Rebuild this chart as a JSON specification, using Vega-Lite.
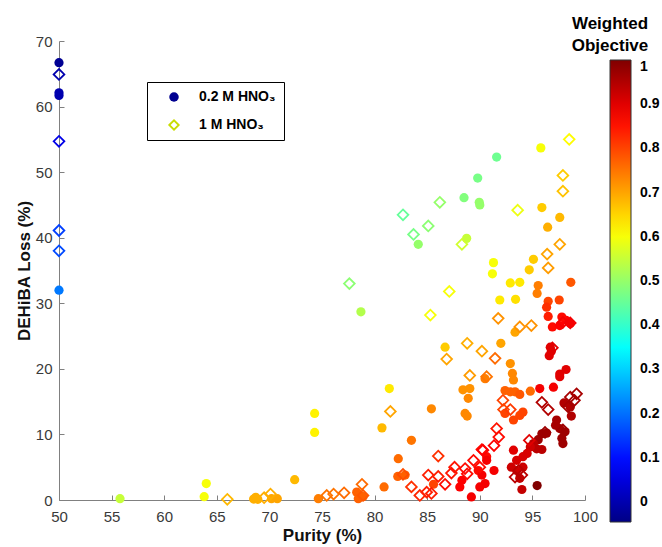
{
  "$schema": "https://vega.github.io/schema/vega-lite/v6.json",
  "width": 526,
  "height": 459,
  "autosize": "none",
  "padding": {"left": 59, "top": 41, "right": 77, "bottom": 47},
  "background": "white",
  "config": {
    "view": {"stroke": null},
    "font": "Liberation Sans",
    "axis": {"grid": false, "domainColor": "#808080", "tickColor": "#808080", "labelColor": "#3a3a3a", "labelFontSize": 15, "titleFontSize": 17, "titleFontWeight": "bold", "titleColor": "#111111", "tickSize": -5, "labelFont": "Liberation Sans", "titleFont": "Liberation Sans"}
  },
  "datasets": {
    "pts": [
      {"p": 50, "l": 66.7, "o": -0.03, "a": "0.2 M HNO₃"},
      {"p": 50, "l": 62.1, "o": 0.0, "a": "0.2 M HNO₃"},
      {"p": 50, "l": 61.7, "o": 0.0, "a": "0.2 M HNO₃"},
      {"p": 50, "l": 32.0, "o": 0.21, "a": "0.2 M HNO₃"},
      {"p": 55.8, "l": 0.2, "o": 0.55, "a": "0.2 M HNO₃"},
      {"p": 64.0, "l": 2.5, "o": 0.6, "a": "0.2 M HNO₃"},
      {"p": 63.8, "l": 0.5, "o": 0.6, "a": "0.2 M HNO₃"},
      {"p": 68.5, "l": 0.15, "o": 0.69, "a": "0.2 M HNO₃"},
      {"p": 68.7, "l": 0.4, "o": 0.69, "a": "0.2 M HNO₃"},
      {"p": 68.9, "l": 0.1, "o": 0.69, "a": "0.2 M HNO₃"},
      {"p": 70.2, "l": 0.2, "o": 0.7, "a": "0.2 M HNO₃"},
      {"p": 70.75, "l": 0.2, "o": 0.7, "a": "0.2 M HNO₃"},
      {"p": 72.4, "l": 3.1, "o": 0.68, "a": "0.2 M HNO₃"},
      {"p": 74.3, "l": 13.2, "o": 0.62, "a": "0.2 M HNO₃"},
      {"p": 74.3, "l": 10.3, "o": 0.62, "a": "0.2 M HNO₃"},
      {"p": 74.65, "l": 0.2, "o": 0.74, "a": "0.2 M HNO₃"},
      {"p": 78.3, "l": 1.2, "o": 0.77, "a": "0.2 M HNO₃"},
      {"p": 78.6, "l": 0.7, "o": 0.77, "a": "0.2 M HNO₃"},
      {"p": 78.45, "l": 0.2, "o": 0.77, "a": "0.2 M HNO₃"},
      {"p": 78.9, "l": 0.5, "o": 0.77, "a": "0.2 M HNO₃"},
      {"p": 81.4, "l": 17.0, "o": 0.63, "a": "0.2 M HNO₃"},
      {"p": 80.7, "l": 11.0, "o": 0.68, "a": "0.2 M HNO₃"},
      {"p": 80.9, "l": 2.0, "o": 0.76, "a": "0.2 M HNO₃"},
      {"p": 82.25, "l": 6.3, "o": 0.76, "a": "0.2 M HNO₃"},
      {"p": 82.2, "l": 3.6, "o": 0.77, "a": "0.2 M HNO₃"},
      {"p": 82.9, "l": 3.8, "o": 0.77, "a": "0.2 M HNO₃"},
      {"p": 83.5, "l": 9.1, "o": 0.75, "a": "0.2 M HNO₃"},
      {"p": 85.4, "l": 13.9, "o": 0.73, "a": "0.2 M HNO₃"},
      {"p": 88.4, "l": 16.8, "o": 0.72, "a": "0.2 M HNO₃"},
      {"p": 89.05, "l": 17.0, "o": 0.72, "a": "0.2 M HNO₃"},
      {"p": 88.9, "l": 15.5, "o": 0.73, "a": "0.2 M HNO₃"},
      {"p": 88.6, "l": 13.2, "o": 0.73, "a": "0.2 M HNO₃"},
      {"p": 88.8, "l": 12.8, "o": 0.73, "a": "0.2 M HNO₃"},
      {"p": 85.6, "l": 2.4, "o": 0.8, "a": "0.2 M HNO₃"},
      {"p": 88.1, "l": 2.0, "o": 0.87, "a": "0.2 M HNO₃"},
      {"p": 88.3, "l": 3.0, "o": 0.87, "a": "0.2 M HNO₃"},
      {"p": 89.2, "l": 0.46, "o": 0.88, "a": "0.2 M HNO₃"},
      {"p": 90.0, "l": 2.0, "o": 0.88, "a": "0.2 M HNO₃"},
      {"p": 90.65, "l": 6.6, "o": 0.86, "a": "0.2 M HNO₃"},
      {"p": 89.85, "l": 4.5, "o": 0.86, "a": "0.2 M HNO₃"},
      {"p": 84.15, "l": 39.0, "o": 0.5, "a": "0.2 M HNO₃"},
      {"p": 88.75, "l": 39.9, "o": 0.55, "a": "0.2 M HNO₃"},
      {"p": 86.7, "l": 23.3, "o": 0.66, "a": "0.2 M HNO₃"},
      {"p": 91.3, "l": 36.2, "o": 0.6, "a": "0.2 M HNO₃"},
      {"p": 91.2, "l": 34.5, "o": 0.6, "a": "0.2 M HNO₃"},
      {"p": 92.9, "l": 33.1, "o": 0.63, "a": "0.2 M HNO₃"},
      {"p": 93.8, "l": 33.2, "o": 0.63, "a": "0.2 M HNO₃"},
      {"p": 91.9, "l": 30.5, "o": 0.63, "a": "0.2 M HNO₃"},
      {"p": 93.4, "l": 30.6, "o": 0.64, "a": "0.2 M HNO₃"},
      {"p": 95.1, "l": 36.7, "o": 0.66, "a": "0.2 M HNO₃"},
      {"p": 94.7, "l": 35.1, "o": 0.66, "a": "0.2 M HNO₃"},
      {"p": 95.55, "l": 32.7, "o": 0.74, "a": "0.2 M HNO₃"},
      {"p": 95.45, "l": 31.5, "o": 0.74, "a": "0.2 M HNO₃"},
      {"p": 98.65, "l": 33.2, "o": 0.78, "a": "0.2 M HNO₃"},
      {"p": 96.5, "l": 30.3, "o": 0.8, "a": "0.2 M HNO₃"},
      {"p": 97.55, "l": 30.5, "o": 0.8, "a": "0.2 M HNO₃"},
      {"p": 93.35, "l": 25.6, "o": 0.7, "a": "0.2 M HNO₃"},
      {"p": 92.0, "l": 23.9, "o": 0.7, "a": "0.2 M HNO₃"},
      {"p": 96.35, "l": 29.4, "o": 0.82, "a": "0.2 M HNO₃"},
      {"p": 96.5, "l": 28.0, "o": 0.84, "a": "0.2 M HNO₃"},
      {"p": 96.9, "l": 26.4, "o": 0.86, "a": "0.2 M HNO₃"},
      {"p": 97.6, "l": 26.6, "o": 0.87, "a": "0.2 M HNO₃"},
      {"p": 98.2, "l": 27.4, "o": 0.87, "a": "0.2 M HNO₃"},
      {"p": 97.8, "l": 27.9, "o": 0.86, "a": "0.2 M HNO₃"},
      {"p": 98.6, "l": 26.9, "o": 0.88, "a": "0.2 M HNO₃"},
      {"p": 96.7, "l": 23.3, "o": 0.9, "a": "0.2 M HNO₃"},
      {"p": 96.8, "l": 22.7, "o": 0.9, "a": "0.2 M HNO₃"},
      {"p": 96.6, "l": 22.0, "o": 0.9, "a": "0.2 M HNO₃"},
      {"p": 92.9, "l": 20.8, "o": 0.72, "a": "0.2 M HNO₃"},
      {"p": 91.6, "l": 52.3, "o": 0.46, "a": "0.2 M HNO₃"},
      {"p": 89.8, "l": 49.1, "o": 0.47, "a": "0.2 M HNO₃"},
      {"p": 88.5, "l": 46.1, "o": 0.48, "a": "0.2 M HNO₃"},
      {"p": 89.95, "l": 45.4, "o": 0.5, "a": "0.2 M HNO₃"},
      {"p": 90.0, "l": 45.0, "o": 0.5, "a": "0.2 M HNO₃"},
      {"p": 95.8, "l": 53.7, "o": 0.6, "a": "0.2 M HNO₃"},
      {"p": 95.9, "l": 44.6, "o": 0.66, "a": "0.2 M HNO₃"},
      {"p": 97.6, "l": 43.1, "o": 0.68, "a": "0.2 M HNO₃"},
      {"p": 96.45, "l": 41.6, "o": 0.69, "a": "0.2 M HNO₃"},
      {"p": 78.7, "l": 28.7, "o": 0.53, "a": "0.2 M HNO₃"},
      {"p": 93.1, "l": 19.3, "o": 0.73, "a": "0.2 M HNO₃"},
      {"p": 93.2, "l": 18.3, "o": 0.73, "a": "0.2 M HNO₃"},
      {"p": 90.5, "l": 18.5, "o": 0.74, "a": "0.2 M HNO₃"},
      {"p": 92.4, "l": 16.7, "o": 0.77, "a": "0.2 M HNO₃"},
      {"p": 92.9, "l": 16.5, "o": 0.77, "a": "0.2 M HNO₃"},
      {"p": 93.35, "l": 16.5, "o": 0.77, "a": "0.2 M HNO₃"},
      {"p": 93.8, "l": 16.1, "o": 0.78, "a": "0.2 M HNO₃"},
      {"p": 94.8, "l": 16.6, "o": 0.76, "a": "0.2 M HNO₃"},
      {"p": 95.7, "l": 17.0, "o": 0.88, "a": "0.2 M HNO₃"},
      {"p": 97.0, "l": 17.2, "o": 0.88, "a": "0.2 M HNO₃"},
      {"p": 97.6, "l": 19.2, "o": 0.9, "a": "0.2 M HNO₃"},
      {"p": 98.2, "l": 19.9, "o": 0.9, "a": "0.2 M HNO₃"},
      {"p": 97.6, "l": 18.8, "o": 0.9, "a": "0.2 M HNO₃"},
      {"p": 98.0, "l": 14.8, "o": 0.95, "a": "0.2 M HNO₃"},
      {"p": 98.6, "l": 14.2, "o": 0.95, "a": "0.2 M HNO₃"},
      {"p": 92.4, "l": 13.2, "o": 0.8, "a": "0.2 M HNO₃"},
      {"p": 93.2, "l": 12.2, "o": 0.8, "a": "0.2 M HNO₃"},
      {"p": 93.8, "l": 12.9, "o": 0.8, "a": "0.2 M HNO₃"},
      {"p": 94.1, "l": 13.4, "o": 0.8, "a": "0.2 M HNO₃"},
      {"p": 97.3, "l": 12.2, "o": 0.96, "a": "0.2 M HNO₃"},
      {"p": 97.6, "l": 10.9, "o": 0.96, "a": "0.2 M HNO₃"},
      {"p": 97.2, "l": 11.4, "o": 0.96, "a": "0.2 M HNO₃"},
      {"p": 98.1, "l": 10.4, "o": 0.97, "a": "0.2 M HNO₃"},
      {"p": 97.8, "l": 9.4, "o": 0.97, "a": "0.2 M HNO₃"},
      {"p": 97.9, "l": 8.6, "o": 0.97, "a": "0.2 M HNO₃"},
      {"p": 98.7, "l": 12.8, "o": 0.95, "a": "0.2 M HNO₃"},
      {"p": 95.9, "l": 10.1, "o": 0.97, "a": "0.2 M HNO₃"},
      {"p": 96.35, "l": 10.2, "o": 0.97, "a": "0.2 M HNO₃"},
      {"p": 95.55, "l": 9.2, "o": 0.97, "a": "0.2 M HNO₃"},
      {"p": 95.4, "l": 7.8, "o": 0.94, "a": "0.2 M HNO₃"},
      {"p": 95.9, "l": 7.7, "o": 0.94, "a": "0.2 M HNO₃"},
      {"p": 95.1, "l": 8.6, "o": 0.94, "a": "0.2 M HNO₃"},
      {"p": 94.8, "l": 8.1, "o": 0.92, "a": "0.2 M HNO₃"},
      {"p": 93.2, "l": 7.6, "o": 0.9, "a": "0.2 M HNO₃"},
      {"p": 93.5, "l": 6.05, "o": 0.91, "a": "0.2 M HNO₃"},
      {"p": 94.1, "l": 6.6, "o": 0.91, "a": "0.2 M HNO₃"},
      {"p": 94.5, "l": 7.1, "o": 0.91, "a": "0.2 M HNO₃"},
      {"p": 93.0, "l": 5.0, "o": 0.92, "a": "0.2 M HNO₃"},
      {"p": 93.5, "l": 4.5, "o": 0.92, "a": "0.2 M HNO₃"},
      {"p": 94.1, "l": 5.0, "o": 0.92, "a": "0.2 M HNO₃"},
      {"p": 93.8, "l": 3.3, "o": 0.93, "a": "0.2 M HNO₃"},
      {"p": 94.0, "l": 1.6, "o": 0.93, "a": "0.2 M HNO₃"},
      {"p": 95.45, "l": 2.2, "o": 1.0, "a": "0.2 M HNO₃"},
      {"p": 90.65, "l": 6.05, "o": 0.88, "a": "0.2 M HNO₃"},
      {"p": 91.35, "l": 4.5, "o": 0.88, "a": "0.2 M HNO₃"},
      {"p": 90.2, "l": 3.8, "o": 0.88, "a": "0.2 M HNO₃"},
      {"p": 90.5, "l": 2.5, "o": 0.88, "a": "0.2 M HNO₃"},
      {"p": 50, "l": 64.9, "o": 0.0, "a": "1 M HNO₃"},
      {"p": 50, "l": 54.7, "o": 0.06, "a": "1 M HNO₃"},
      {"p": 50, "l": 41.1, "o": 0.15, "a": "1 M HNO₃"},
      {"p": 50, "l": 38.0, "o": 0.16, "a": "1 M HNO₃"},
      {"p": 66.0, "l": 0.1, "o": 0.68, "a": "1 M HNO₃"},
      {"p": 69.5, "l": 0.35, "o": 0.69, "a": "1 M HNO₃"},
      {"p": 70.1, "l": 0.9, "o": 0.69, "a": "1 M HNO₃"},
      {"p": 75.45, "l": 0.7, "o": 0.75, "a": "1 M HNO₃"},
      {"p": 76.1, "l": 0.9, "o": 0.75, "a": "1 M HNO₃"},
      {"p": 77.1, "l": 1.1, "o": 0.76, "a": "1 M HNO₃"},
      {"p": 78.8, "l": 2.4, "o": 0.76, "a": "1 M HNO₃"},
      {"p": 78.9, "l": 0.7, "o": 0.78, "a": "1 M HNO₃"},
      {"p": 81.5, "l": 13.5, "o": 0.7, "a": "1 M HNO₃"},
      {"p": 82.7, "l": 3.9, "o": 0.79, "a": "1 M HNO₃"},
      {"p": 86.05, "l": 6.7, "o": 0.82, "a": "1 M HNO₃"},
      {"p": 89.05, "l": 19.0, "o": 0.71, "a": "1 M HNO₃"},
      {"p": 86.85, "l": 21.5, "o": 0.7, "a": "1 M HNO₃"},
      {"p": 85.1, "l": 3.8, "o": 0.84, "a": "1 M HNO₃"},
      {"p": 86.05, "l": 3.6, "o": 0.84, "a": "1 M HNO₃"},
      {"p": 87.3, "l": 4.1, "o": 0.85, "a": "1 M HNO₃"},
      {"p": 87.6, "l": 5.0, "o": 0.85, "a": "1 M HNO₃"},
      {"p": 86.7, "l": 2.4, "o": 0.86, "a": "1 M HNO₃"},
      {"p": 88.6, "l": 4.8, "o": 0.86, "a": "1 M HNO₃"},
      {"p": 88.8, "l": 4.0, "o": 0.86, "a": "1 M HNO₃"},
      {"p": 83.5, "l": 2.0, "o": 0.82, "a": "1 M HNO₃"},
      {"p": 84.3, "l": 0.7, "o": 0.83, "a": "1 M HNO₃"},
      {"p": 84.95, "l": 1.2, "o": 0.84, "a": "1 M HNO₃"},
      {"p": 85.4, "l": 1.0, "o": 0.84, "a": "1 M HNO₃"},
      {"p": 90.2, "l": 7.7, "o": 0.86, "a": "1 M HNO₃"},
      {"p": 89.4, "l": 6.05, "o": 0.86, "a": "1 M HNO₃"},
      {"p": 90.0, "l": 5.0, "o": 0.86, "a": "1 M HNO₃"},
      {"p": 83.7, "l": 40.5, "o": 0.47, "a": "1 M HNO₃"},
      {"p": 88.3, "l": 39.0, "o": 0.56, "a": "1 M HNO₃"},
      {"p": 87.1, "l": 31.8, "o": 0.6, "a": "1 M HNO₃"},
      {"p": 85.3, "l": 28.2, "o": 0.6, "a": "1 M HNO₃"},
      {"p": 88.8, "l": 23.9, "o": 0.69, "a": "1 M HNO₃"},
      {"p": 90.2, "l": 22.7, "o": 0.7, "a": "1 M HNO₃"},
      {"p": 96.4, "l": 37.5, "o": 0.7, "a": "1 M HNO₃"},
      {"p": 97.6, "l": 39.0, "o": 0.7, "a": "1 M HNO₃"},
      {"p": 96.5, "l": 35.4, "o": 0.71, "a": "1 M HNO₃"},
      {"p": 91.75, "l": 27.7, "o": 0.72, "a": "1 M HNO₃"},
      {"p": 93.8, "l": 26.4, "o": 0.72, "a": "1 M HNO₃"},
      {"p": 94.9, "l": 26.6, "o": 0.72, "a": "1 M HNO₃"},
      {"p": 97.9, "l": 27.1, "o": 0.88, "a": "1 M HNO₃"},
      {"p": 98.6, "l": 27.0, "o": 0.88, "a": "1 M HNO₃"},
      {"p": 96.9, "l": 23.2, "o": 0.9, "a": "1 M HNO₃"},
      {"p": 91.45, "l": 21.6, "o": 0.76, "a": "1 M HNO₃"},
      {"p": 86.2, "l": 45.4, "o": 0.5, "a": "1 M HNO₃"},
      {"p": 82.7, "l": 43.5, "o": 0.45, "a": "1 M HNO₃"},
      {"p": 85.1, "l": 41.8, "o": 0.49, "a": "1 M HNO₃"},
      {"p": 98.5, "l": 55.0, "o": 0.61, "a": "1 M HNO₃"},
      {"p": 97.9, "l": 49.5, "o": 0.66, "a": "1 M HNO₃"},
      {"p": 97.9, "l": 47.1, "o": 0.67, "a": "1 M HNO₃"},
      {"p": 93.6, "l": 44.2, "o": 0.59, "a": "1 M HNO₃"},
      {"p": 77.6, "l": 33.0, "o": 0.49, "a": "1 M HNO₃"},
      {"p": 90.65, "l": 18.8, "o": 0.75, "a": "1 M HNO₃"},
      {"p": 95.9, "l": 14.9, "o": 0.95, "a": "1 M HNO₃"},
      {"p": 96.5, "l": 13.8, "o": 0.95, "a": "1 M HNO₃"},
      {"p": 98.6, "l": 15.7, "o": 0.96, "a": "1 M HNO₃"},
      {"p": 99.2, "l": 16.2, "o": 0.96, "a": "1 M HNO₃"},
      {"p": 99.0, "l": 15.2, "o": 0.96, "a": "1 M HNO₃"},
      {"p": 98.4, "l": 14.2, "o": 0.96, "a": "1 M HNO₃"},
      {"p": 92.2, "l": 15.2, "o": 0.8, "a": "1 M HNO₃"},
      {"p": 92.25, "l": 13.8, "o": 0.8, "a": "1 M HNO₃"},
      {"p": 92.9, "l": 13.8, "o": 0.81, "a": "1 M HNO₃"},
      {"p": 97.9, "l": 10.7, "o": 0.97, "a": "1 M HNO₃"},
      {"p": 96.2, "l": 10.3, "o": 0.97, "a": "1 M HNO₃"},
      {"p": 94.7, "l": 9.1, "o": 0.9, "a": "1 M HNO₃"},
      {"p": 91.6, "l": 10.9, "o": 0.85, "a": "1 M HNO₃"},
      {"p": 91.8, "l": 9.6, "o": 0.86, "a": "1 M HNO₃"},
      {"p": 91.35, "l": 8.3, "o": 0.87, "a": "1 M HNO₃"},
      {"p": 90.3, "l": 7.6, "o": 0.87, "a": "1 M HNO₃"},
      {"p": 93.35, "l": 3.5, "o": 0.94, "a": "1 M HNO₃"},
      {"p": 94.0, "l": 3.8, "o": 0.94, "a": "1 M HNO₃"},
      {"p": 93.7, "l": 4.5, "o": 0.94, "a": "1 M HNO₃"}
    ]
  },
  "data": {"name": "pts"},
  "encoding": {
    "x": {"field": "p", "type": "quantitative", "scale": {"domain": [50, 100], "nice": false, "zero": false},
      "axis": {"title": "Purity (%)", "values": [50, 55, 60, 65, 70, 75, 80, 85, 90, 95, 100], "labelPadding": 14, "titlePadding": 3, "labelFlush": false}},
    "y": {"field": "l", "type": "quantitative", "scale": {"domain": [0, 70], "nice": false, "zero": false},
      "axis": {"title": "DEHiBA Loss (%)", "values": [0, 10, 20, 30, 40, 50, 60, 70], "labelPadding": 12, "titlePadding": 2, "labelFlush": false}}
  },
  "resolve": {"scale": {"shape": "independent"}, "legend": {"shape": "independent"}},
  "layer": [
    {"transform": [{"filter": "datum.a === '0.2 M HNO₃'"}], "mark": {"type": "point", "filled": true, "opacity": 1, "size": 85},
      "encoding": {
        "fill": {"field": "o", "type": "quantitative",
          "scale": {"domain": [-0.045, 0.0856, 0.3469, 0.6081, 0.8694, 1], "range": ["#000085", "#0000ff", "#00ffff", "#ffff00", "#ff0000", "#800000"], "interpolate": "rgb"},
          "legend": {"type": "gradient", "orient": "none", "legendX": 513, "legendY": -25, "padding": 0,
            "title": ["Weighted", "Objective"], "titleFontSize": 17, "titleFontWeight": "bold", "titleColor": "black", "titleAlign": "center", "titleAnchor": "start", "titleLineHeight": 22, "titlePadding": 5,
            "gradientLength": 462, "gradientThickness": 21, "gradientStrokeColor": "#333333", "gradientStrokeWidth": 1,
            "values": [0, 0.1, 0.2, 0.3, 0.4, 0.5, 0.6, 0.7, 0.8, 0.9, 1], "format": ".1~f",
            "labelFontSize": 14, "labelFontWeight": "bold", "labelColor": "black", "labelOffset": 9, "labelOverlap": false,
            "encode": {"labels": {"baseline": {"value": "middle"}}}}},
        "shape": {"field": "a", "type": "nominal", "scale": {"range": ["circle"]},
          "legend": {"orient": "none", "legendX": 88, "legendY": 41, "title": " ", "titleOrient": "bottom", "titleFontSize": 20, "titlePadding": 7, "strokeColor": "black", "padding": 8, "symbolOffset": 12, "labelOffset": 18, "labelFontSize": 14, "labelFontWeight": "bold", "labelColor": "black", "symbolSize": 90, "symbolFillColor": "#000090", "symbolStrokeColor": "transparent", "symbolOpacity": 1}}
      }},
    {"transform": [{"filter": "datum.a === '1 M HNO₃'"}], "mark": {"type": "point", "filled": false, "opacity": 1, "size": 115, "strokeWidth": 1.8},
      "encoding": {
        "stroke": {"field": "o", "type": "quantitative",
          "scale": {"domain": [-0.0450001, 0.0856, 0.3469, 0.6081, 0.8694, 1.0000001], "range": ["#000085", "#0000ff", "#00ffff", "#ffff00", "#ff0000", "#800000"], "interpolate": "rgb"},
          "legend": null},
        "shape": {"field": "a", "type": "nominal", "scale": {"range": ["diamond"]},
          "legend": {"orient": "none", "legendX": 88, "legendY": 69, "title": null, "padding": 8, "symbolOffset": 12, "labelOffset": 18, "labelFontSize": 14, "labelFontWeight": "bold", "labelColor": "black", "symbolSize": 90, "symbolFillColor": "transparent", "symbolStrokeColor": "#c8dc00", "symbolStrokeWidth": 1.8, "symbolOpacity": 1}}
      }}
  ]
}
